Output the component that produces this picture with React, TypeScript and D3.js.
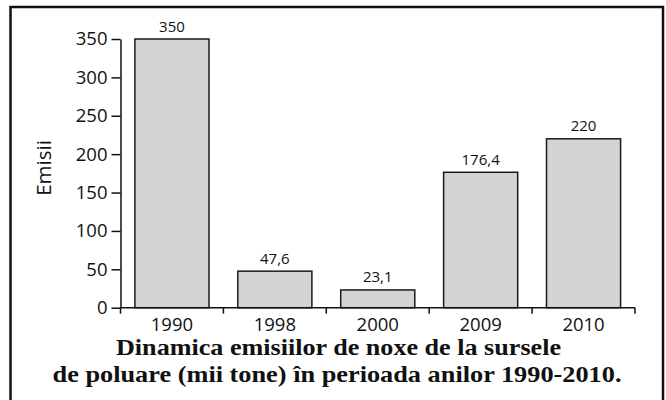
import React, { useEffect, useRef } from 'react';
import * as d3 from 'd3';

const years = ['1990', '1998', '2000', '2009', '2010'];
const emissions = [350, 47.6, 23.1, 176.4, 220];
const yTicks = [0, 50, 100, 150, 200, 250, 300, 350];
const yLabel = 'Emisii';
const titleLines = [
  'Dinamica emisiilor de noxe de la sursele',
  'de poluare (mii tone) în perioada anilor 1990-2010.',
];

const sans = '"Open Sans", "Noto Sans", sans-serif';
const serif = '"Liberation Serif", "DejaVu Serif", serif';

export default function App() {
  const ref = useRef<SVGSVGElement>(null);

  useEffect(() => {
    const width = 666;
    const height = 400;
    const svg = d3.select(ref.current).attr('width', width).attr('height', height);
    svg.selectAll('*').remove();

    // frame
    svg.append('rect')
      .attr('x', 10.5).attr('y', 7)
      .attr('width', 652.5).attr('height', 420)
      .attr('fill', 'none').attr('stroke', '#111').attr('stroke-width', 2.5);

    // scales
    const x = d3.scaleBand<string>()
      .domain(years)
      .range([120.5, 635])
      .paddingInner(0.28)
      .paddingOuter(0.14);

    const y = d3.scaleLinear()
      .domain([0, 350])
      .range([307.7, 39]);

    const data = years.map((year, i) => ({ year, value: emissions[i] }));

    // bars
    svg.selectAll('.bar')
      .data(data)
      .join('rect')
      .attr('class', 'bar')
      .attr('x', d => x(d.year)!)
      .attr('y', d => y(d.value))
      .attr('width', x.bandwidth())
      .attr('height', d => y(0) - y(d.value))
      .attr('fill', '#d4d4d4')
      .attr('stroke', '#1a1a1a')
      .attr('stroke-width', 1.5);

    // value labels
    svg.selectAll('.val')
      .data(data)
      .join('text')
      .attr('class', 'val')
      .attr('x', d => x(d.year)! + x.bandwidth() / 2)
      .attr('y', d => y(d.value) - 7.5)
      .attr('text-anchor', 'middle')
      .attr('font-family', sans)
      .attr('font-size', 15)
      .attr('fill', '#111')
      .text(d => String(d.value).replace('.', ','));

    // y axis
    const yAxis = svg.append('g')
      .attr('transform', 'translate(120.5,0)')
      .call(d3.axisLeft(y).tickValues(yTicks).tickSize(9).tickSizeOuter(0).tickPadding(4));
    yAxis.select('.domain').attr('stroke', '#111').attr('stroke-width', 1.5);
    yAxis.selectAll('.tick line').attr('stroke', '#111').attr('stroke-width', 1.5);
    yAxis.selectAll('.tick text')
      .attr('font-family', sans)
      .attr('font-size', 18.5)
      .attr('fill', '#111');

    // x axis: baseline with ticks at band boundaries
    const x0 = x.range()[0];
    const x1 = x.range()[1];
    const xAxis = svg.append('g');
    xAxis.append('line')
      .attr('x1', x0).attr('x2', x1)
      .attr('y1', y(0)).attr('y2', y(0))
      .attr('stroke', '#111').attr('stroke-width', 1.5);
    const bounds = d3.range(years.length + 1).map(i => x0 + i * x.step());
    xAxis.selectAll('.xt')
      .data(bounds)
      .join('line')
      .attr('class', 'xt')
      .attr('x1', d => d).attr('x2', d => d)
      .attr('y1', y(0)).attr('y2', y(0) + 6)
      .attr('stroke', '#111').attr('stroke-width', 1.5);
    xAxis.selectAll('.xl')
      .data(years)
      .join('text')
      .attr('class', 'xl')
      .attr('x', d => x(d)! + x.bandwidth() / 2)
      .attr('y', 331)
      .attr('text-anchor', 'middle')
      .attr('font-family', sans)
      .attr('font-size', 18.5)
      .attr('fill', '#111')
      .text(d => d);

    // y label
    svg.append('text')
      .attr('transform', 'translate(51,168) rotate(-90)')
      .attr('text-anchor', 'middle')
      .attr('font-family', sans)
      .attr('font-size', 20.5)
      .attr('fill', '#111')
      .text(yLabel);

    // title
    const titlePos = [
      { cx: 338.5, y: 355, len: 445 },
      { cx: 337, y: 382, len: 569 },
    ];
    svg.selectAll('.title')
      .data(titleLines)
      .join('text')
      .attr('class', 'title')
      .attr('x', (d, i) => titlePos[i].cx)
      .attr('y', (d, i) => titlePos[i].y)
      .attr('text-anchor', 'middle')
      .attr('font-family', serif)
      .attr('font-weight', 'bold')
      .attr('font-size', 23.5)
      .attr('fill', '#111')
      .attr('textLength', (d, i) => titlePos[i].len)
      .attr('lengthAdjust', 'spacingAndGlyphs')
      .text(d => d);
  }, []);

  return (
    <svg ref={ref} style={{ position: 'absolute', left: 0, top: 0, display: 'block', background: '#fff' }} />
  );
}
